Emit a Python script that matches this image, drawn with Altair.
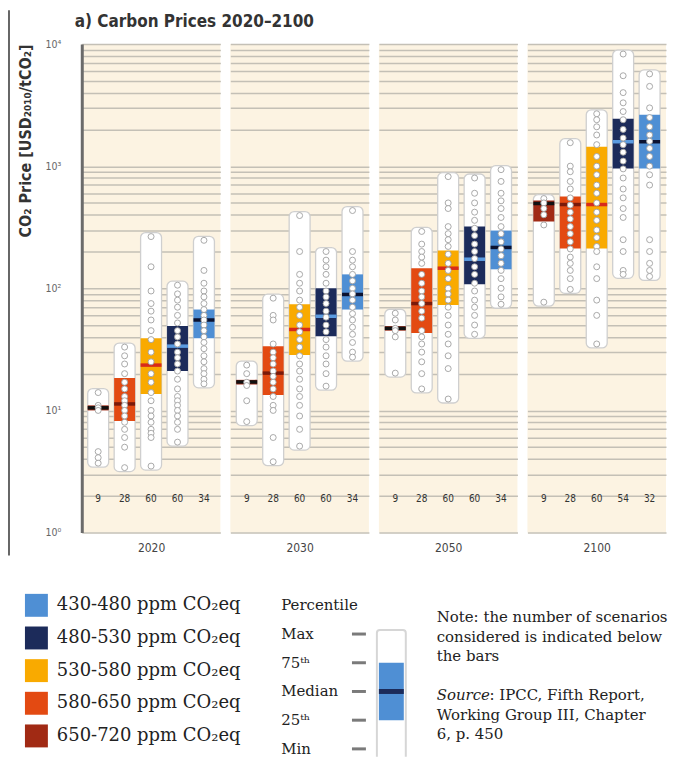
import altair as alt
import pandas as pd

# ---------------- data ----------------
years = ["2020", "2030", "2050", "2100"]
categories = ["650-720", "580-650", "530-580", "480-530", "430-480"]  # left -> right in each panel
cat_colors = ["#A12A14", "#E34A12", "#F9AA00", "#1C2B5A", "#4F8FD4"]
median_colors = ["#111111", "#7A1A0A", "#D82A1A", "#5B9BE0", "#0B1230"]
legend_order = ["430-480", "480-530", "530-580", "580-650", "650-720"]

counts = {
    "2020": [9, 28, 60, 60, 34],
    "2030": [9, 28, 60, 60, 34],
    "2050": [9, 28, 60, 60, 34],
    "2100": [9, 28, 60, 54, 32],
}
p_min = {
    "2020": [3.7, 3.4, 3.5, 5.5, 16.5],
    "2030": [8.1, 3.8, 5.1, 15.8, 27.3],
    "2050": [20.2, 15, 12.4, 42, 74],
    "2100": [77, 98, 35, 130, 125],
}
p_q1 = {
    "2020": [10.0, 8.2, 13.6, 21, 39],
    "2030": [16.3, 13.4, 28.4, 40.5, 67],
    "2050": [45, 43, 73, 108, 143],
    "2100": [352, 212, 212, 955, 955],
}
p_med = {
    "2020": [10.5, 11.3, 23.5, 33.6, 55],
    "2030": [17.1, 20.2, 46, 59, 89],
    "2050": [47, 75, 146, 173, 216],
    "2100": [494, 485, 485, 1585, 1585],
}
p_q3 = {
    "2020": [11.0, 18.4, 39, 49, 67],
    "2030": [17.8, 33.6, 74, 100, 130],
    "2050": [49, 146, 204, 321, 297],
    "2100": [523, 564, 1443, 2443, 2633],
}
p_max = {
    "2020": [14, 33, 265, 106, 247],
    "2030": [23.5, 83, 394, 200, 433],
    "2050": [62.5, 292, 821, 800, 936],
    "2100": [543, 1556, 2685, 8280, 5690],
}
scenario_points = {
    "2020": [
        [14, 11, 10.5, 10, 4.6, 4.1, 3.7],
        [33, 28, 24, 20, 17, 15, 13, 12, 11, 10, 9, 8, 7, 6, 5, 3.4],
        [265, 150, 95, 75, 65, 55, 45, 38, 30, 25, 20, 17, 14, 12, 10, 9, 8, 7, 6.5, 6, 3.5],
        [106, 90, 80, 70, 60, 52, 45, 40, 35, 30, 27, 24, 21, 18, 15, 13, 12, 11, 10, 9, 8, 7, 5.5],
        [247, 140, 110, 95, 85, 75, 67, 60, 55, 50, 45, 40, 36, 32, 28, 25, 22, 20, 18, 16.5],
    ],
    "2030": [
        [23.5, 20, 17, 16, 12, 8.1],
        [83, 60, 55, 35, 30, 27, 24, 21, 19, 17, 15, 13, 11, 10, 6, 3.8],
        [394, 200, 130, 110, 95, 80, 70, 60, 50, 44, 38, 33, 28, 24, 21, 18, 15, 13, 11, 9, 7, 5.1],
        [200, 170, 150, 130, 110, 95, 85, 75, 65, 58, 50, 44, 38, 33, 28, 24, 20, 15.8],
        [433, 200, 170, 150, 130, 115, 100, 90, 80, 70, 62, 55, 48, 42, 36, 30, 27.3],
    ],
    "2050": [
        [62.5, 55, 47, 45, 40, 20.2],
        [292, 230, 200, 180, 160, 130, 110, 95, 85, 75, 65, 57, 45, 40, 35, 30, 25, 20, 15],
        [821, 500, 450, 320, 280, 250, 220, 190, 160, 140, 120, 100, 90, 80, 70, 60, 50, 42, 35, 28, 22, 12.4],
        [800, 600, 500, 420, 360, 310, 270, 230, 200, 175, 150, 130, 110, 95, 80, 70, 60, 50, 42],
        [936, 750, 600, 520, 450, 380, 320, 280, 240, 210, 185, 160, 140, 120, 100, 85, 74],
    ],
    "2100": [
        [543, 500, 450, 400, 330, 77],
        [1556, 1000, 900, 750, 650, 550, 480, 420, 370, 320, 280, 240, 210, 180, 160, 140, 120, 98],
        [2685, 2400, 2100, 1800, 1500, 1200, 1000, 850, 700, 600, 500, 420, 360, 300, 260, 220, 200, 150, 120, 80, 60, 35],
        [8280, 5500, 4000, 3300, 2800, 2400, 2000, 1700, 1500, 1300, 1100, 950, 800, 650, 550, 450, 380, 250, 200, 140, 130],
        [5690, 4500, 3000, 2500, 2100, 1800, 1600, 1400, 1200, 1000, 850, 700, 250, 200, 160, 140, 125],
    ],
}

title_text = "a) Carbon Prices 2020\u20132100"
y_title = "CO\u2082 Price [USD\u2082\u2080\u2081\u2080/tCO\u2082]"
pct_levels = ["Percentile", "Max", "75\u1d57\u02b0", "Median", "25\u1d57\u02b0", "Min"]
note_text = ["Note: the number of scenarios", "considered is indicated below", "the bars"]
source_lead = "Source"
source_rest_1 = ": IPCC, Fifth Report,"
source_rest_2 = ["Working Group III, Chapter", "6, p. 450"]

# ---------------- tables ----------------
rows = []
pts_rows = []
for y in years:
    for i, c in enumerate(categories):
        rows.append(dict(year=y, cat=c, n=str(counts[y][i]), vmin=p_min[y][i], q1=p_q1[y][i],
                         med=p_med[y][i], q3=p_q3[y][i], vmax=p_max[y][i], mcol=median_colors[i]))
        for v in scenario_points[y][i]:
            pts_rows.append(dict(year=y, cat=c, value=v))
box = pd.DataFrame(rows)
pts = pd.DataFrame(pts_rows)

SANS = "Liberation Sans Narrow, DejaVu Sans Condensed, Open Sans, sans-serif"
SERIF = "DejaVu Serif, serif"
BG = "#FCF3E2"
GRID = "#C4C0B6"
NOVIEW = alt.ViewBackground(fill="transparent", stroke="transparent", strokeWidth=0)

grid_vals = [m * 10 ** k for k in range(4) for m in range(1, 10)] + [10000]
sup_expr = ("datum.value == 1 ? '10\u2070' : datum.value == 10 ? '10\u00b9' : "
            "datum.value == 100 ? '10\u00b2' : datum.value == 1000 ? '10\u00b3' : "
            "datum.value == 10000 ? '10\u2074' : ''")

yscale = alt.Scale(type="log", domain=[1, 10000], nice=False)
PW, PH = 139, 490


def panel(year, first):
    b = box[box.year == year]
    p = pts[pts.year == year]
    xs = alt.Scale(type="point", padding=0.62)
    xenc = alt.X("cat:N", sort=categories, scale=xs,
                 axis=alt.Axis(title=year, labels=False, ticks=False, domain=False, grid=False,
                               titlePadding=10, titleFontSize=12, titleFontWeight="normal",
                               titleColor="#444", titleFont=SANS))
    xplain = alt.X("cat:N", sort=categories, scale=xs)
    if first:
        yaxis = alt.Axis(values=grid_vals, labelExpr=sup_expr, title=y_title, titleAnchor="end",
                         titleFontSize=16, titleFontWeight="bold", titleColor="#333", titleFont=SANS,
                         titlePadding=12, domain=True, domainColor="#6b6b6b", domainWidth=3,
                         ticks=False, labelPadding=21, labelFontSize=10.5, labelColor="#666",
                         labelFont=SANS, labelOverlap=False, labelFlush=False,
                         grid=True, gridColor=GRID, gridWidth=1.5)
    else:
        yaxis = alt.Axis(values=grid_vals, labels=False, domain=False, ticks=False, title=None,
                         grid=True, gridColor=GRID, gridWidth=1.5)

    white = alt.Chart(b).mark_bar(size=21, color="white", stroke="#CFCFCF", strokeWidth=1.3,
                                  cornerRadius=5, yOffset=4, y2Offset=-4).encode(
        x=xenc, y=alt.Y("vmin:Q", scale=yscale, axis=yaxis), y2="vmax:Q")
    iqr = alt.Chart(b).mark_bar(size=21).encode(
        x=xplain, y="q1:Q", y2="q3:Q",
        color=alt.Color("cat:N", scale=alt.Scale(domain=categories, range=cat_colors), legend=None))
    medt = alt.Chart(b).mark_tick(thickness=3.5, size=21, opacity=1).encode(
        x=xplain, y="med:Q", fill=alt.Fill("mcol:N", scale=None))
    circ = alt.Chart(p).mark_point(shape="circle", filled=True, color="white", stroke="#A0A0A0",
                                   strokeWidth=0.9, size=36, opacity=1).encode(x=xplain, y="value:Q")
    cnt = alt.Chart(b).mark_text(fontSize=10, color="#333", font=SANS).encode(
        x=xplain, y=alt.value(456), text="n:N")
    layers = [white, iqr, medt, circ, cnt]
    if first:
        ttl = alt.Chart(pd.DataFrame({"t": [title_text]})).mark_text(
            align="left", baseline="middle", fontSize=17, fontWeight="bold", font=SANS,
            color="#333").encode(x=alt.value(-7), y=alt.value(-22), text="t:N")
        border = alt.Chart(pd.DataFrame({"a": [0]})).mark_rule(color="black", strokeWidth=1.2).encode(
            x=alt.value(-73), y=alt.value(-34), y2=alt.value(513))
        layers += [ttl, border]
    return alt.layer(*layers).properties(width=PW, height=PH,
                                         view=alt.ViewBackground(fill=BG, strokeWidth=0))


panels = alt.hconcat(*[panel(y, i == 0) for i, y in enumerate(years)], spacing=10, bounds="flush")

# ---------------- legend row ----------------
LH = 167
leg_df = pd.DataFrame({"cat": legend_order,
                       "label": [f"{c} ppm CO\u2082eq" for c in legend_order]})
yleg = alt.Y("cat:N", sort=legend_order, scale=alt.Scale(type="point", range=[15, 146], padding=0),
             axis=None)
sq = alt.Chart(leg_df).mark_square(size=529, opacity=1).encode(
    x=alt.value(-45.5), y=yleg,
    color=alt.Color("cat:N", scale=alt.Scale(domain=categories, range=cat_colors), legend=None))
lt = alt.Chart(leg_df).mark_text(align="left", baseline="middle", font=SERIF, fontSize=18,
                                 color="#222").encode(x=alt.value(-25), y=yleg, text="label:N")
colors_chart = alt.layer(sq, lt).properties(width=188, height=LH, view=NOVIEW)

pct_df = pd.DataFrame({"level": pct_levels, "idx": list(range(len(pct_levels)))})
ypct_scale = alt.Scale(domain=[0, len(pct_levels) - 1], range=[15, 159])
pl = alt.Chart(pct_df).mark_text(align="left", baseline="middle", font=SERIF, fontSize=15,
                                 color="#222").encode(
    x=alt.value(12), y=alt.Y("idx:Q", scale=ypct_scale, axis=None), text="level:N")
dash = alt.Chart(pct_df).transform_filter("datum.idx > 0").mark_rule(
    color="#7a7a7a", strokeWidth=3).encode(
    x=alt.value(83), x2=alt.value(97), y=alt.Y("idx:Q", scale=ypct_scale, axis=None))
sch_df = pd.DataFrame({"top": [pct_levels.index("Max")], "bottom": [pct_levels.index("Min")],
                       "q3": [2], "q1": [4], "med": [pct_levels.index("Median")]})
sch_white = alt.Chart(sch_df).mark_rect(color="white", stroke="#D6D6D6", strokeWidth=2,
                                        cornerRadius=3, yOffset=-4, y2Offset=12, clip=True).encode(
    x=alt.value(108), x2=alt.value(137), y=alt.Y("top:Q", scale=ypct_scale, axis=None), y2="bottom:Q")
sch_blue = alt.Chart(sch_df).mark_rect(color="#4F8FD4").encode(
    x=alt.value(110), x2=alt.value(135), y=alt.Y("q3:Q", scale=ypct_scale, axis=None), y2="q1:Q")
sch_med = alt.Chart(sch_df).mark_rule(color="#1C2B5A", strokeWidth=5).encode(
    x=alt.value(110), x2=alt.value(135), y=alt.Y("med:Q", scale=ypct_scale, axis=None))
pct_chart = alt.layer(sch_white, sch_blue, sch_med, dash, pl).properties(width=150, height=LH,
                                                                         view=NOVIEW)

note_df = pd.DataFrame({"t": ["\n".join(note_text)]})
n1 = alt.Chart(note_df).mark_text(align="left", baseline="middle", font=SERIF, fontSize=15,
                                  color="#222", lineBreak="\n", lineHeight=19.5).encode(
    x=alt.value(18), y=alt.value(27), text="t:N")
s1 = alt.Chart(pd.DataFrame({"t": [source_lead]})).mark_text(
    align="left", baseline="middle", font=SERIF, fontSize=15, fontStyle="italic",
    color="#222").encode(x=alt.value(18), y=alt.value(105), text="t:N")
s2 = alt.Chart(pd.DataFrame({"t": [source_rest_1]})).mark_text(
    align="left", baseline="middle", font=SERIF, fontSize=15, color="#222").encode(
    x=alt.value(71), y=alt.value(105), text="t:N")
s3 = alt.Chart(pd.DataFrame({"t": ["\n".join(source_rest_2)]})).mark_text(
    align="left", baseline="middle", font=SERIF, fontSize=15, color="#222", lineBreak="\n",
    lineHeight=19).encode(x=alt.value(18), y=alt.value(125), text="t:N")
note_chart = alt.layer(n1, s1, s2, s3).properties(width=230, height=LH, view=NOVIEW)

legend_row = alt.hconcat(colors_chart, pct_chart, note_chart, spacing=0)

chart = alt.vconcat(panels, legend_row, spacing=34).properties(
    padding={"left": 0, "right": 0, "top": 0, "bottom": 0}
).configure_view(strokeWidth=0, stroke="transparent").configure(background="white")

chart.save("out.html", embed_options={"renderer": "svg", "actions": False})
